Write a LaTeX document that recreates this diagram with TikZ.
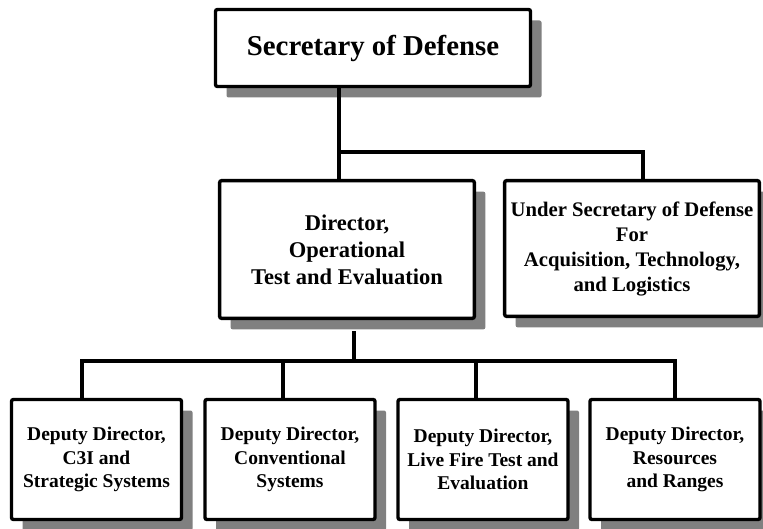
\documentclass[tikz,border=0pt]{standalone}
\usepackage{fontspec}
\setmainfont{Liberation Serif}
\usetikzlibrary{shadows,calc}
\definecolor{shadowgray}{RGB}{128,128,128}
\tikzset{orgbox/.style={draw, line width=3.4pt, rounded corners=2pt, fill=white,
    align=center, inner sep=2pt,
    drop shadow={shadow xshift=11pt, shadow yshift=-11pt, fill=shadowgray, opacity=1}},
  link/.style={line width=3.3pt}}

\begin{document}
\begin{tikzpicture}[x=1pt, y=-1pt]
    \useasboundingbox (0,0) rectangle (763,529);
    \node[orgbox, minimum width=315pt, minimum height=77pt,
          font=\bfseries\fontsize{28.8}{34.5}\selectfont] (sec) at (373,48) {Secretary of Defense};
    \node[orgbox, minimum width=254.7pt, minimum height=137.7pt,
          font=\bfseries\fontsize{22.5}{27}\selectfont] (dir) at (347,249.5)
          {Director,\\ Operational\\ Test and Evaluation};
    \node[orgbox, minimum width=254.7pt, minimum height=135.7pt,
          font=\bfseries\fontsize{20.7}{25}\selectfont] (usd) at (632,248.5)
          {Under Secretary of Defense\\ For\\ Acquisition, Technology,\\ and Logistics};
    \node[orgbox, minimum width=170pt, minimum height=120pt,
          font=\bfseries\fontsize{19.5}{23.5}\selectfont] (dd1) at (96.5,459.5)
          {Deputy Director,\\ C3I and\\ Strategic Systems};
    \node[orgbox, minimum width=170pt, minimum height=120pt,
          font=\bfseries\fontsize{19.5}{23.5}\selectfont] (dd2) at (290,459.5)
          {Deputy Director,\\ Conventional\\ Systems};
    \node[orgbox, minimum width=170pt, minimum height=120pt,
          font=\bfseries\fontsize{19.5}{23.5}\selectfont] (dd3) at (483,459.5)
          {Deputy Director,\\ Live Fire Test and\\ Evaluation};
    \node[orgbox, minimum width=170pt, minimum height=120pt,
          font=\bfseries\fontsize{19.5}{23.5}\selectfont] (dd4) at (675,459.5)
          {Deputy Director,\\ Resources\\ and Ranges};
    \coordinate (j1) at (339,152); %upper bar
    \coordinate (j2) at (354,361); %lower bar
    \draw[link] (sec.south -| j1) -- (dir.north -| j1);
    \draw[link] (j1) -| ([xshift=11pt]usd.north);
    \draw[link] ([yshift=-11pt]dir.south -| j2) -- (j2);
    \draw[link] ([xshift=-14.5pt]dd1.north) |- (j2) -| (dd4.north);
    \draw[link] ([xshift=-7pt]dd2.north) -- ([xshift=-7pt]dd2.north |- j2);
    \draw[link] ([xshift=-7pt]dd3.north) -- ([xshift=-7pt]dd3.north |- j2);
\end{tikzpicture}
\end{document}
